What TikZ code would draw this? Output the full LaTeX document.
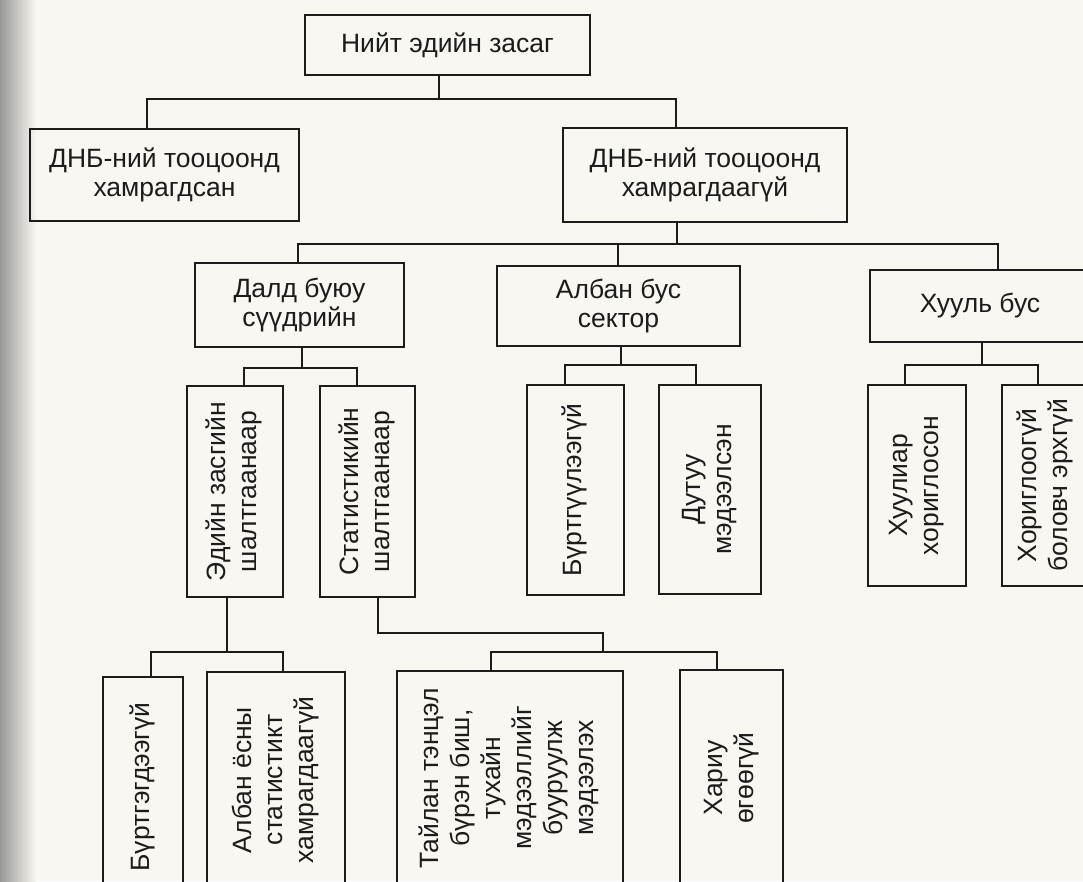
\documentclass[tikz,border=0pt]{standalone}
\usepackage{fontspec}
\setmainfont{Liberation Sans}
\usepackage{graphicx}
\definecolor{paper}{RGB}{249,247,241}
\definecolor{ink}{RGB}{28,28,28}
\newcommand{\vtext}[1]{\rotatebox{90}{\fontsize{26.5}{31}\selectfont\begin{tabular}{@{}c@{}}#1\end{tabular}}}
\begin{document}
\begin{tikzpicture}[x=1pt,y=-1pt,
  box/.style={draw=ink, line width=1.6pt, inner sep=0pt, align=center, text=ink,
              font=\fontsize{26.5}{28.5}\selectfont},
  link/.style={draw=ink, line width=1.5pt, line join=miter}]
\clip (0,0) rectangle (1083,881);
\fill[paper] (0,0) rectangle (1083,881);
\shade[left color=black!40, right color=paper] (0,0) rectangle (36,881);

% level 0
\node[box, minimum width=285pt, minimum height=60pt] (top) at (447.5,45) {Нийт эдийн засаг};
% level 1
\node[box, minimum width=269pt, minimum height=92pt] (dnb1) at (164.5,175) {ДНБ-ний тооцоонд\\хамрагдсан};
\node[box, minimum width=284pt, minimum height=94pt] (dnb2) at (705,175) {ДНБ-ний тооцоонд\\хамрагдаагүй};
% level 2
\node[box, minimum width=209pt, minimum height=84pt] (dald) at (299.5,305) {Далд буюу\\сүүдрийн};
\node[box, minimum width=243pt, minimum height=80pt] (alban) at (618.5,306) {Албан бус\\сектор};
\node[box, minimum width=220pt, minimum height=72pt] (huul) at (980,306) {Хууль бус};
% level 3
\node[box, minimum width=96pt, minimum height=211pt] (ed) at (235,491.5) {\vtext{Эдийн засгийн\\шалтгаанаар}};
\node[box, minimum width=95pt, minimum height=211pt] (stat) at (367.5,491.5) {\vtext{Статистикийн\\шалтгаанаар}};
\node[box, minimum width=97pt, minimum height=210pt] (burtguul) at (575.5,490) {\vtext{Бүртгүүлээгүй}};
\node[box, minimum width=102pt, minimum height=209pt] (dutuu) at (710,489.5) {\vtext{Дутуу\\мэдээлсэн}};
\node[box, minimum width=98pt, minimum height=201pt] (hhor) at (917,485.5) {\vtext{Хуулиар\\хориглосон}};
\node[box, minimum width=88pt, minimum height=201pt] (hor) at (1046,485.5) {\vtext{Хориглоогүй\\боловч эрхгүй}};
% level 4
\node[box, minimum width=80pt, minimum height=220pt] (burtgeg) at (143,787) {\vtext{Бүртгэгдээгүй}};
\node[box, minimum width=138pt, minimum height=216pt] (albanyos) at (276,780) {\vtext{Албан ёсны\\статистикт\\хамрагдаагүй}};
\node[box, minimum width=226pt, minimum height=214pt] (tailan) at (510,778) {\vtext{Тайлан тэнцэл\\бүрэн биш,\\тухайн\\мэдээллийг\\бууруулж\\мэдээлэх}};
\node[box, minimum width=103pt, minimum height=216pt] (hariu) at (731.5,778) {\vtext{Хариу\\өгөөгүй}};

% junctions
\coordinate (j0) at (439,99);  \coordinate (j0a) at (147,99);  \coordinate (j0b) at (676,99);
\coordinate (j1) at (677,244); \coordinate (j1a) at (298,244); \coordinate (j1b) at (618,244); \coordinate (j1c) at (998,244);
\coordinate (j2) at (302,368); \coordinate (j2a) at (244,368); \coordinate (j2b) at (357,368);
\coordinate (j3) at (621,365); \coordinate (j3a) at (565,365); \coordinate (j3b) at (696,365);
\coordinate (j4) at (982,365); \coordinate (j4a) at (905,365); \coordinate (j4b) at (1038,365);
\coordinate (j5) at (227,652); \coordinate (j5a) at (151,652); \coordinate (j5b) at (283,652);
\coordinate (j6) at (378,633); \coordinate (j6b) at (603,633); \coordinate (j6c) at (603,652);
\coordinate (j7a) at (491,652); \coordinate (j7b) at (717,652);

% connectors
\draw[link] (top.south -| j0) -- (j0);
\draw[link] (j0a |- dnb1.north) -- (j0a) -- (j0b) -- (j0b |- dnb2.north);

\draw[link] (dnb2.south -| j1) -- (j1);
\draw[link] (j1a |- dald.north) -- (j1a) -- (j1c) -- (j1c |- huul.north);
\draw[link] (j1b) -- (j1b |- alban.north);

\draw[link] (dald.south -| j2) -- (j2);
\draw[link] (j2a |- ed.north) -- (j2a) -- (j2b) -- (j2b |- stat.north);

\draw[link] (alban.south -| j3) -- (j3);
\draw[link] (j3a |- burtguul.north) -- (j3a) -- (j3b) -- (j3b |- dutuu.north);

\draw[link] (huul.south -| j4) -- (j4);
\draw[link] (j4a |- hhor.north) -- (j4a) -- (j4b) -- (j4b |- hor.north);

\draw[link] (ed.south -| j5) -- (j5);
\draw[link] (j5a |- burtgeg.north) -- (j5a) -- (j5b) -- (j5b |- albanyos.north);

\draw[link] (stat.south -| j6) -- (j6) -- (j6b) -- (j6c);
\draw[link] (j7a |- tailan.north) -- (j7a) -- (j7b) -- (j7b |- hariu.north);
\end{tikzpicture}
\end{document}
